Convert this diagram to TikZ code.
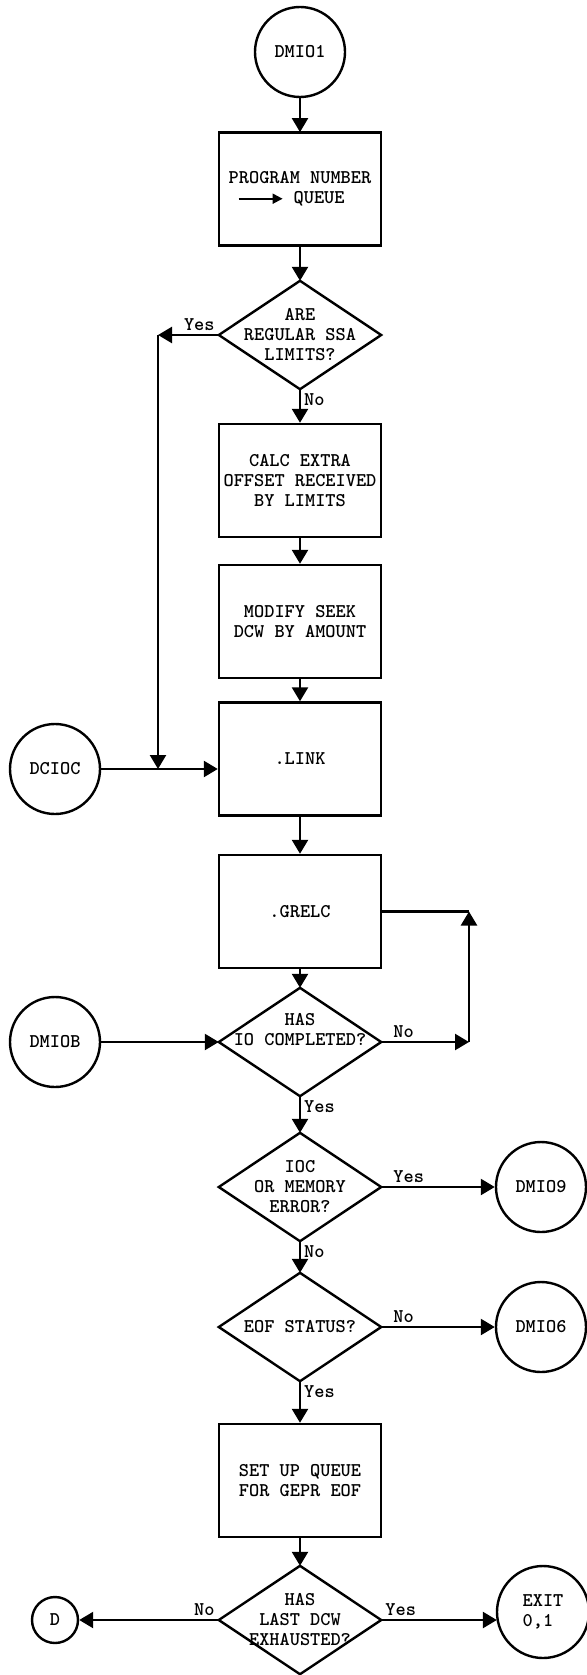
\documentclass[tikz,border=0pt]{standalone}
\usetikzlibrary{arrows.meta}

\tikzset{
  procbox/.style={draw, minimum width=81pt, minimum height=56.5pt, inner sep=0pt, align=center},
  decision/.style={minimum width=80pt, minimum height=53pt, inner sep=0pt, align=center},
  connector/.style={draw, circle, minimum size=45pt, inner sep=0pt, align=center},
  answer/.style={inner sep=1.5pt}
}

\begin{document}
\begin{tikzpicture}[>={Triangle[length=7pt,width=8pt]}, x=0.5pt, y=-0.5pt,
    line width=1.2pt, font=\ttfamily\bfseries\fontsize{9.7}{10}\selectfont]
  % sheet size
  \useasboundingbox (0,0) rectangle (587,1675);

  % main column
  \node[connector] (dmio1) at (300,52) {DMIO1};
  \node[procbox, align=left] (queue) at (300,189) {PROGRAM NUMBER\\
    \hspace*{4.5pt}\tikz[baseline=-0.6ex]\draw[line width=0.9pt,-{Triangle[length=5pt,width=5pt]}] (0,0) -- (22pt,0); QUEUE};
  \node[decision] (ssa) at (300,335) {ARE\\REGULAR SSA\\LIMITS?};
  \node[procbox] (offset) at (300,480.5) {CALC EXTRA\\OFFSET RECEIVED\\BY LIMITS};
  \node[procbox] (seek) at (300,621.5) {MODIFY SEEK\\DCW BY AMOUNT};
  \node[procbox] (link) at (300,759) {.LINK};
  \node[procbox] (grelc) at (300,911.5) {.GRELC};
  \node[decision] (iodone) at (300,1042) {HAS\\IO COMPLETED?\\\strut};
  \node[decision] (memerr) at (300,1187) {IOC\\OR MEMORY\\ERROR?};
  \node[decision] (eof) at (300,1327) {EOF STATUS?};
  \node[procbox] (gepr) at (300,1480.5) {SET UP QUEUE\\FOR GEPR EOF};
  \node[decision] (lastdcw) at (300,1620) {HAS\\LAST DCW\\EXHAUSTED?};

  % diamonds round the decision texts
  \foreach \d in {ssa, iodone, memerr, eof, lastdcw}
    \draw (\d.north) -- (\d.east) -- (\d.south) -- (\d.west) -- cycle;

  % entry and exit circles
  \node[connector] (dcioc) at (55,769) {DCIOC};
  \node[connector] (dmiob) at (55,1042) {DMIOB};
  \node[connector] (dmio9) at (541,1187) {DMIO9};
  \node[connector] (dmio6) at (541,1327) {DMIO6};
  \node[connector, minimum size=46pt, align=left] (exit) at (543,1612) {EXIT\\0,1};
  \node[connector, minimum size=23pt] (dout) at (55,1620) {D};

  % straight flow down the column
  \foreach \a/\b in {dmio1/queue, queue/ssa, ssa/offset, offset/seek, seek/link,
                     link/grelc, grelc/iodone, iodone/memerr, memerr/eof,
                     eof/gepr, gepr/lastdcw}
    \draw[->] (\a) -- (\b);

  % branch answers
  \node[answer, anchor=south east] (ssayes) at (ssa.west) {Yes};
  \node[answer, anchor=north west] (ssano) at (ssa.south) {No};
  \node[answer, anchor=south west] (iodoneno) at ([xshift=4pt]iodone.east) {No};
  \node[answer, anchor=north west] (iodoneyes) at (iodone.south) {Yes};
  \node[answer, anchor=south west] (memerryes) at ([xshift=4pt]memerr.east) {Yes};
  \node[answer, anchor=north west] (memerrno) at (memerr.south) {No};
  \node[answer, anchor=south west] (eofno) at ([xshift=4pt]eof.east) {No};
  \node[answer, anchor=north west] (eofyes) at (eof.south) {Yes};
  \node[answer, anchor=south east] (lastdcwno) at (lastdcw.west) {No};
  \node[answer, anchor=south west] (lastdcwyes) at (lastdcw.east) {Yes};

  % regular limits skip to .LINK
  \coordinate (ssaloop) at (158,335);
  \coordinate (linkjoin) at (ssaloop |- dcioc);
  \draw[->] (ssa.west) -- (ssaloop);
  \draw[->] (ssaloop) -- (linkjoin);
  \draw[->] (dcioc) -- (dcioc -| link.west);

  % wait loop back to .GRELC
  \coordinate (waitloop) at (469,1042);
  \coordinate (waittop) at (waitloop |- grelc.east);
  \draw[->] (iodone.east) -- (waitloop);
  \draw[->] (waitloop) -- (waittop);
  \draw (waittop) -- (grelc.east);
  \draw[->] (dmiob) -- (iodone.west);

  % side exits
  \draw[->] (memerr.east) -- (dmio9);
  \draw[->] (eof.east) -- (dmio6);
  \draw[->] (lastdcw.west) -- (dout);
  \draw[->] (lastdcw.east) -- (lastdcw.east -| exit.192);
\end{tikzpicture}
\end{document}
